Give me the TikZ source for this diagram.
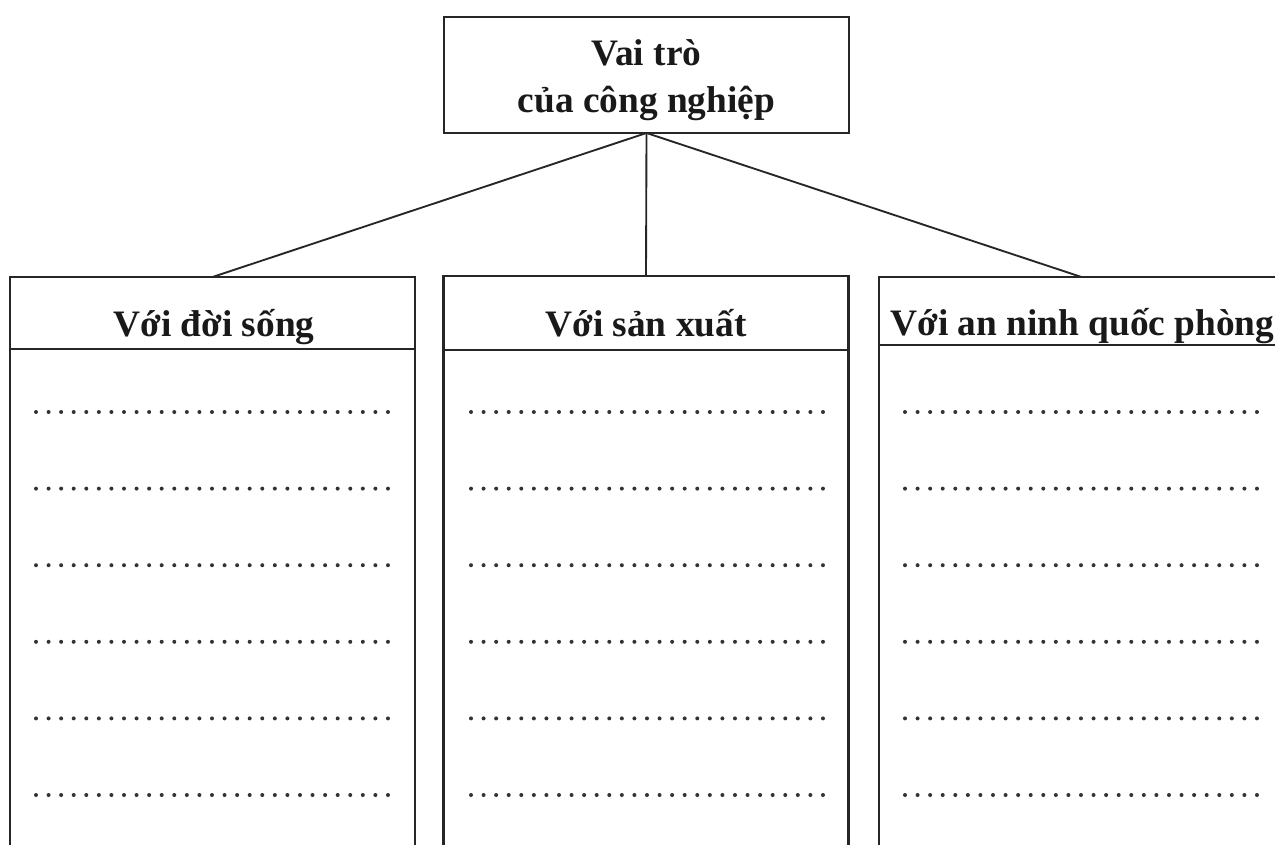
\documentclass[tikz,border=0pt]{standalone}
\usepackage{fontspec}
\setmainfont{Liberation Serif}
\begin{document}
\begin{tikzpicture}[x=0.75pt,y=-0.75pt,
  every node/.style={inner sep=0pt, outer sep=0pt},
  boxline/.style={line width=1.6pt, draw=black!85},
  topbox/.style={boxline, draw, minimum width=405*0.75pt, minimum height=116*0.75pt},
  headbox/.style={boxline, draw, minimum width=405*0.75pt},
  headtext/.style={anchor=base, font=\fontsize{28}{34}\selectfont\bfseries, text=black!90},
  dotmark/.style={fill=black!80},
  link/.style={line width=1.4pt, draw=black!85}]
\clip (0,0) rectangle (1275,844);
\useasboundingbox (0,0) rectangle (1275,844);
% top box
\node[topbox] (top) at (646.5,75) {};
\node[headtext, align=center, anchor=center] (toptext) at (646.5,80)
  {Vai trò\\[1.5pt]của công nghiệp};
% header boxes
\node[headbox, minimum height=72*0.75pt] (h1) at (212.5,313) {};
\node[headbox, minimum height=74*0.75pt] (h2) at (646,313) {};
\node[headbox, minimum height=68*0.75pt] (h3) at (1081.5,311) {};
\node[headtext] (t1) at (214,336) {Với đời sống};
\node[headtext] (t2) at (646,336) {Với sản xuất};
\node[headtext] (t3) at (1082.5,335) {Với an ninh quốc phòng};
% bodies (open at bottom)
\coordinate (b1l) at (h1.south west |- 0,900);
\coordinate (b1r) at (h1.south east |- 0,900);
\coordinate (b2l) at (h2.south west |- 0,900);
\coordinate (b2r) at (h2.south east |- 0,900);
\coordinate (b3l) at (h3.south west |- 0,900);
\coordinate (b3r) at (h3.south east |- 0,900);
\draw[boxline] (h1.south west) -- (b1l) (h1.south east) -- (b1r);
\draw[boxline] (h2.south west) -- (b2l) (h2.south east) -- (b2r);
\draw[boxline] (h3.south west) -- (b3l) (h3.south east) -- (b3r);
% connectors
\draw[link] (top.south) -- (h1.north);
\draw[link] (top.south) -- (h2.north);
\draw[link] (top.south) -- (h3.north);
% dotted answer lines
\foreach \r in {0,...,5}{
  \foreach \x in {36,471,905}{
    \foreach \i in {0,...,28}{
      \fill[dotmark] ({\x+\i*12.57},{412+\r*76.6}) circle (2.0);
    }
  }
}
\end{tikzpicture}
\end{document}
